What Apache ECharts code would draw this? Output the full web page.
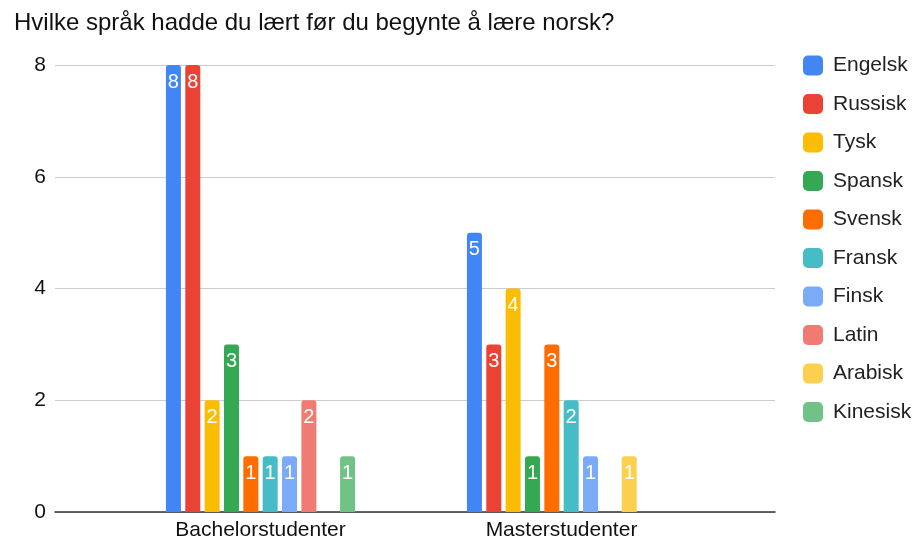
<!DOCTYPE html>
<html>
<head>
<meta charset="utf-8">
<script src="https://cdn.jsdelivr.net/npm/echarts@6/dist/echarts.min.js"></script>
<style>
  html, body { margin: 0; padding: 0; background: #fff; }
  #main { width: 914px; height: 542px; }
</style>
</head>
<body>
<div id="main"></div>
<script>
var categories = ['Bachelorstudenter', 'Masterstudenter'];
var languages = ['Engelsk', 'Russisk', 'Tysk', 'Spansk', 'Svensk', 'Fransk', 'Finsk', 'Latin', 'Arabisk', 'Kinesisk'];
var colors = ['#4285F4', '#EA4335', '#FBBC04', '#34A853', '#FF6D01', '#46BDC6', '#7BAAF7', '#F07B72', '#FCD04F', '#71C287'];
// one array per language: [Bachelor, Master]
var engelsk = [8, 5];
var russisk = [8, 3];
var tysk = [2, 4];
var spansk = [3, 1];
var svensk = [1, 3];
var fransk = [1, 2];
var finsk = [1, 1];
var latin = [2, 0];
var arabisk = [0, 1];
var kinesisk = [1, 0];
var yTicks = [0, 2, 4, 6, 8];

var values = [engelsk, russisk, tysk, spansk, svensk, fransk, finsk, latin, arabisk, kinesisk];
var font = 'Liberation Sans, Arial, Helvetica, sans-serif';

var myChart = echarts.init(document.getElementById('main'));

var series = languages.map(function (name, i) {
    return {
        name: name,
        type: 'bar',
        xAxisIndex: 1,
        yAxisIndex: 1,
        barWidth: 15,
        barGap: '29%',
        barCategoryGap: '36%',
        itemStyle: {color: colors[i], borderRadius: [3, 3, 0, 0]},
        label: {
            show: true,
            position: 'insideTop',
            distance: 7,
            color: '#fff',
            fontSize: 20,
            fontFamily: font,
            formatter: function (p) { return p.value > 0 ? p.value : ''; }
        },
        data: values[i].map(function (v) { return v > 0 ? v : null; })
    };
});

var option = {
    animation: false,
    color: colors,
    textStyle: {fontFamily: font},
    title: {
        text: 'Hvilke språk hadde du lært før du begynte å lære norsk?',
        left: 9,
        top: 6,
        textStyle: {fontSize: 24, fontWeight: 'normal', color: '#111', fontFamily: font}
    },
    legend: {
        orient: 'vertical',
        left: 798,
        top: 50,
        itemWidth: 20,
        itemHeight: 20,
        itemGap: 17.5,
        icon: 'roundRect',
        textStyle: {fontSize: 21, color: '#222', fontFamily: font, padding: [0, 0, 0, 5]},
        data: languages
    },
    grid: [
        {left: 55, right: 139, top: 65, bottom: 30},
        {left: 110, right: 202, top: 65, bottom: 30}
    ],
    xAxis: [
        {
            gridIndex: 0,
            type: 'category',
            data: categories,
            axisLine: {show: true, lineStyle: {color: '#333', width: 1.5}},
            axisTick: {show: false},
            axisLabel: {show: false}
        },
        {
            gridIndex: 1,
            type: 'category',
            data: categories,
            axisLine: {show: false},
            axisTick: {show: false},
            axisLabel: {fontSize: 21, color: '#111', margin: 8, fontFamily: font}
        }
    ],
    yAxis: [
        {
            gridIndex: 0,
            type: 'value',
            min: yTicks[0],
            max: yTicks[yTicks.length - 1],
            interval: 2,
            axisLine: {show: false},
            axisTick: {show: false},
            axisLabel: {fontSize: 21, color: '#111', margin: 9, fontFamily: font},
            splitLine: {lineStyle: {color: '#ccc', width: 1}}
        },
        {
            gridIndex: 1,
            type: 'value',
            min: yTicks[0],
            max: yTicks[yTicks.length - 1],
            interval: 2,
            show: false,
            splitLine: {show: false}
        }
    ],
    series: series
};
myChart.setOption(option);
</script>
</body>
</html>
